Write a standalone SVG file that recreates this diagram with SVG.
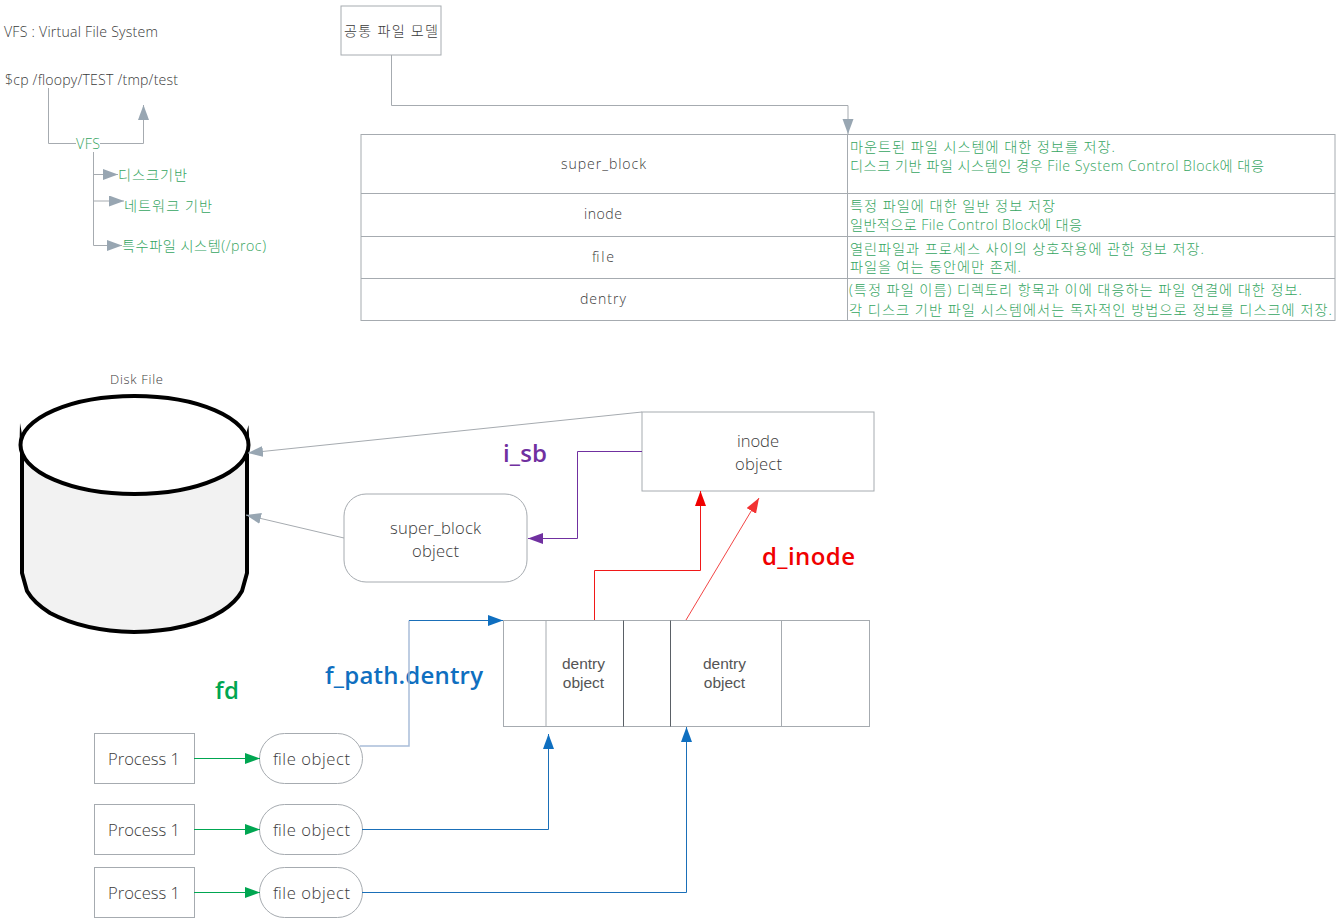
<svg xmlns="http://www.w3.org/2000/svg" width="1340" height="922" viewBox="0 0 1340 922">
<style>
text{font-family:"Open Sans","Noto Sans CJK KR",sans-serif;fill:#3a3a3a;font-weight:300}
.m{text-anchor:middle}
.g{fill:#35a561;font-size:14.2px}
.s{font-size:14.1px}
.box{fill:#fff;stroke:#a6abb0;stroke-width:1}
.c{fill:none;stroke:#a6abb0;stroke-width:1}
.gr{fill:none;stroke:#00a651;stroke-width:1}
.bl{fill:none;stroke:#1a6fb8;stroke-width:1}
.rd{fill:none;stroke:#f01818;stroke-width:1}
.pu{fill:none;stroke:#7030a0;stroke-width:1}
.n{font-size:16.6px}
.a{font-family:"Liberation Sans",sans-serif;font-size:15.5px;fill:#555}
text.b{font-size:24px;font-weight:600}
</style>
<defs>
<marker id="ag" markerUnits="userSpaceOnUse" markerWidth="16" markerHeight="12" refX="15" refY="5.500" orient="auto"><path d="M0 0L15 5.500L0 11Z" fill="#98a6b2"/></marker>
<marker id="agr" markerUnits="userSpaceOnUse" markerWidth="16" markerHeight="12" refX="15" refY="5.500" orient="auto"><path d="M0 0L15 5.500L0 11Z" fill="#00a651"/></marker>
<marker id="abl" markerUnits="userSpaceOnUse" markerWidth="16" markerHeight="12" refX="15" refY="5.500" orient="auto"><path d="M0 0L15 5.500L0 11Z" fill="#0f6fc0"/></marker>
<marker id="ard" markerUnits="userSpaceOnUse" markerWidth="16" markerHeight="12" refX="15" refY="5.500" orient="auto"><path d="M0 0L15 5.500L0 11Z" fill="#f00000"/></marker>
<marker id="apu" markerUnits="userSpaceOnUse" markerWidth="16" markerHeight="12" refX="15" refY="5.500" orient="auto"><path d="M0 0L15 5.500L0 11Z" fill="#7030a0"/></marker>
</defs>
<rect width="1340" height="922" fill="#fff"/>

<g id="title"><text x="4" y="37" class="s" textLength="154">VFS : Virtual File System</text></g>
<g id="command"><text x="5" y="85" class="s" textLength="173">$cp /floopy/TEST /tmp/test</text></g>
<g id="vfs"><text x="76" y="149" class="g" textLength="24">VFS</text></g>
<g id="vfs-disk"><text x="118" y="180" class="g" textLength="69">디스크기반</text></g>
<g id="vfs-net"><text x="124" y="211" class="g" textLength="88">네트워크 기반</text></g>
<g id="vfs-special"><text x="122" y="251" class="g" textLength="144">특수파일 시스템(/proc)</text></g>

<g id="common-model"><rect class="box" x="341" y="6" width="100" height="49"/><text x="344" y="36" class="s" textLength="94">공통 파일 모델</text></g>

<g id="table">
<rect class="box" x="361" y="134.500" width="974" height="186"/>
<path class="c" d="M361 193.500H1335M361 236.500H1335M361 278.500H1335M847.500 134.500V320.500"/>
<text x="561" y="169" class="s" textLength="85">super_block</text>
<text x="584" y="219" class="s" textLength="38">inode</text>
<text x="592" y="262" class="s" textLength="22">file</text>
<text x="580" y="304" class="s" textLength="46">dentry</text>
<text x="850" y="152" class="g" textLength="265">마운트된 파일 시스템에 대한 정보를 저장.</text>
<text x="850" y="171" class="g" textLength="414">디스크 기반 파일 시스템인 경우 File System Control Block에 대응</text>
<text x="850" y="211" class="g" textLength="205">특정 파일에 대한 일반 정보 저장</text>
<text x="850" y="230" class="g" textLength="232">일반적으로 File Control Block에 대응</text>
<text x="850" y="254" class="g" textLength="354">열린파일과 프로세스 사이의 상호작용에 관한 정보 저장.</text>
<text x="850" y="272" class="g" textLength="171">파일을 여는 동안에만 존제.</text>
<text x="849" y="295" class="g" textLength="453">(특정 파일 이름) 디렉토리 항목과 이에 대응하는 파일 연결에 대한 정보.</text>
<text x="849" y="315" class="g" textLength="483">각 디스크 기반 파일 시스템에서는 독자적인 방법으로 정보를 디스크에 저장.</text>
</g>

<g id="disk">
<text x="110" y="384" font-size="13" textLength="53">Disk File</text>
<path d="M22 445V573L27 591Q34 603 50 613Q84 631 134 632Q190 631 222 611Q236 602 242 591L247 573V445Z" fill="#f2f2f2" stroke="#000" stroke-width="4"/>
<path d="M19.500 445L20 423L22.500 437Z M249.500 445L248.500 425L245 438Z" fill="#000"/>
<ellipse cx="134.500" cy="445" rx="114" ry="49" fill="#fff" stroke="#000" stroke-width="4"/>
</g>

<g id="inode-object"><rect class="box" x="642" y="412" width="232" height="79"/><text x="737" y="447" class="n" textLength="42">inode</text><text x="735" y="470" class="n" textLength="47">object</text></g>
<g id="super-block-object"><rect class="box" x="344" y="494" width="183" height="88" rx="22"/><text x="390" y="534" class="n" textLength="91">super_block</text><text x="412" y="557" class="n" textLength="47">object</text></g>
<g id="dentry-table">
<rect class="box" x="503.500" y="620.500" width="366" height="106"/>
<path class="c" d="M546 620.500V726.500M781.500 620.500V726.500"/>
<path fill="none" stroke="#5a6066" d="M623.500 620.500V726.500M670.500 620.500V726.500"/>
<text x="583.500" y="669" class="m a">dentry</text><text x="583.500" y="688" class="m a">object</text>
<text x="724.500" y="669" class="m a">dentry</text><text x="724.500" y="688" class="m a">object</text>
</g>
<g id="process-1"><rect class="box" x="94.500" y="733.500" width="100" height="50"/><text x="108" y="765" class="n" textLength="72">Process 1</text></g>
<g id="process-2"><rect class="box" x="94.500" y="804.500" width="100" height="50"/><text x="108" y="836" class="n" textLength="72">Process 1</text></g>
<g id="process-3"><rect class="box" x="94.500" y="867.500" width="100" height="50"/><text x="108" y="899" class="n" textLength="72">Process 1</text></g>
<g id="file-1"><rect class="box" x="259.500" y="733.500" width="103" height="50" rx="25"/><text x="273" y="765" class="n" textLength="77">file object</text></g>
<g id="file-2"><rect class="box" x="259.500" y="804.500" width="103" height="50" rx="25"/><text x="273" y="836" class="n" textLength="77">file object</text></g>
<g id="file-3"><rect class="box" x="259.500" y="867.500" width="103" height="50" rx="25"/><text x="273" y="899" class="n" textLength="77">file object</text></g>

<g id="label-i-sb"><text x="503" y="462" class="b" style="fill:#7030a0" textLength="44">i_sb</text></g>
<g id="label-d-inode"><text x="762" y="565" class="b" style="fill:#f00000" textLength="93">d_inode</text></g>
<g id="label-fd"><text x="215" y="699" class="b" style="fill:#00a651" textLength="24">fd</text></g>
<g id="label-f-path"><text x="325" y="684" class="b" style="fill:#0f6fc0" textLength="158">f_path.dentry</text></g>

<g id="connectors">
<path class="c" d="M48.500 88V143.500H76M100 143.500H143.500V105" marker-end="url(#ag)"/>
<path class="c" d="M93.500 152V245.500H122" marker-end="url(#ag)"/>
<path class="c" d="M93.500 174.500H118" marker-end="url(#ag)"/>
<path class="c" d="M93.500 201H124" marker-end="url(#ag)"/>
<path class="c" d="M391.500 55V105.500H848V134" marker-end="url(#ag)"/>
<path class="c" d="M642 412L248 453" marker-end="url(#ag)"/>
<path class="c" d="M344 538L246 515" marker-end="url(#ag)"/>
<path class="pu" d="M642 451.500H577.500V538.500H528" marker-end="url(#apu)"/>
<path class="rd" d="M594.500 620V570.500H700.500V491" marker-end="url(#ard)"/>
<path class="rd" d="M686 620L759 498" marker-end="url(#ard)" opacity="0.8"/>
<path fill="none" stroke="#a9bdd9" stroke-width="1.500" d="M360 746H409V620.500"/>
<path class="bl" d="M409 620.500H503" marker-end="url(#abl)"/>
<path class="bl" d="M362 829.500H548.500V734" marker-end="url(#abl)"/>
<path class="bl" d="M362 892.500H686.500V727" marker-end="url(#abl)"/>
<path class="gr" d="M194 758.500H260" marker-end="url(#agr)"/>
<path class="gr" d="M194 829.500H260" marker-end="url(#agr)"/>
<path class="gr" d="M194 892.500H260" marker-end="url(#agr)"/>
</g>
</svg>
